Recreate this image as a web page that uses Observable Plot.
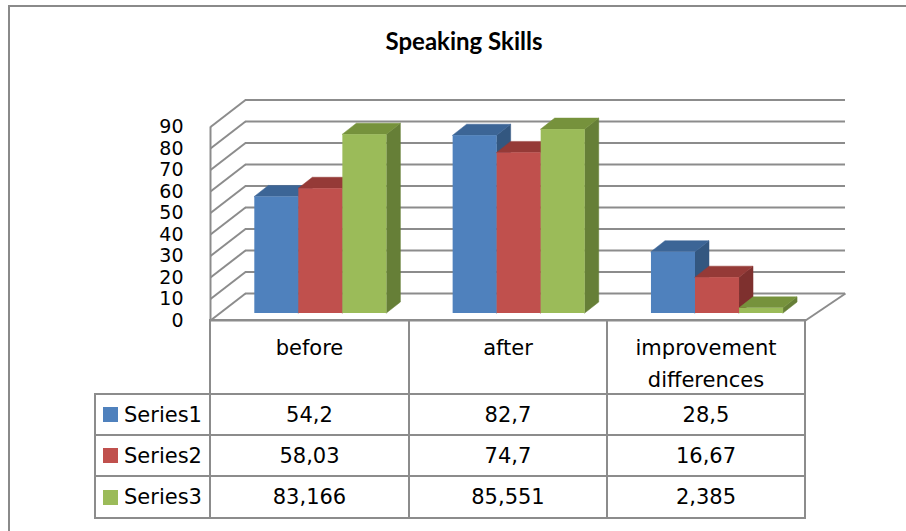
<!DOCTYPE html>
<html>
<head>
<meta charset="utf-8">
<script src="https://cdn.jsdelivr.net/npm/d3@7"></script>
<script src="https://cdn.jsdelivr.net/npm/@observablehq/plot@0.6"></script>
<style>
  html, body { margin: 0; padding: 0; background: #fff; }
  #wrap { position: relative; width: 906px; height: 531px; overflow: hidden; font-family: "DejaVu Sans", Lato, sans-serif; color: #000; }
  #wrap svg { position: absolute; left: 0; top: 0; }
  .frameL { position: absolute; left: 8px; top: 5px; width: 2px; height: 540px; background: #8a8a8a; }
  .frameT { position: absolute; left: 8px; top: 5px; width: 910px; height: 2px; background: #8a8a8a; }
  #title { position: absolute; left: 0; width: 928px; top: 26px; text-align: center; font-weight: bold; font-size: 24px; font-family: Lato, sans-serif; }
  .cell { position: absolute; box-sizing: border-box; border: 2px solid #8c8c8c; font-size: 21px; text-align: center; background: transparent; }
  .hdr { padding-top: 11px; line-height: 32px; }
  .val { display: flex; align-items: center; justify-content: center; }
  .leg { display: flex; align-items: center; justify-content: flex-start; padding-left: 7px; }
  .sw { width: 15px; height: 15px; margin-right: 6px; }
</style>
</head>
<body>
<div id="wrap">
  <div class="frameL"></div>
  <div class="frameT"></div>
  <div id="title">Speaking Skills</div>
</div>
<script>
// ---- data ----
const categories = ["before", "after", "improvement differences"];
const categoryLabels = ["before", "after", "improvement\ndifferences"];
const seriesNames = ["Series1", "Series2", "Series3"];
const series1 = [54.2, 82.7, 28.5];
const series2 = [58.03, 74.7, 16.67];
const series3 = [83.166, 85.551, 2.385];
const yTicks = [0, 10, 20, 30, 40, 50, 60, 70, 80, 90];

// ---- styles ----
const frontColors = ["#4F81BD", "#C0504D", "#9BBB59"];
const topColors = ["#3C6596", "#953A37", "#76923C"];
const sideColors = ["#335780", "#7E302E", "#667F37"];
const gridColor = "#8c8c8c";

const seriesValues = [series1, series2, series3];

// layout (pixels)
const W = 906, H = 531;
const xLeft = 210, xRight = 805, yZero = 320, yMax = 126.5;
const kx = 3 / (xRight - xLeft);          // data units per px (x)
const ky = 90 / (yZero - yMax);           // data units per px (y)
const backDx = 35, backDy = -27;          // back wall offset
const midDx = 9, midDy = -7;              // bar front face offset
const depthX = 14 * kx, depthY = 11 * ky; // bar depth
const groupOffset = 0.178, barW = 0.222;

const marks = [];
// back wall grid
marks.push(Plot.ruleY(yTicks, {y: d => d, x1: 0, x2: 3 + 5 * kx, dx: backDx, dy: backDy, stroke: gridColor, strokeWidth: 2}));
// side wall diagonals
marks.push(Plot.link(yTicks, {x1: 0, y1: d => d, x2: backDx * kx, y2: d => d - backDy * ky, stroke: gridColor, strokeWidth: 2}));
// front axis line
marks.push(Plot.ruleX([0], {y1: 0, y2: 90, stroke: gridColor, strokeWidth: 2}));
// floor front and right edges
marks.push(Plot.ruleY([0], {x1: 0, x2: 3, stroke: gridColor, strokeWidth: 2}));
marks.push(Plot.link([0], {x1: 3, y1: 0, x2: 3 + 40 * kx, y2: -backDy * ky, stroke: gridColor, strokeWidth: 2}));

// bars (3D): draw series in order so right bars cover left bars' sides
seriesValues.forEach((vals, j) => {
  const rows = vals.map((v, i) => {
    const x1 = i + groupOffset + j * barW;
    return {cat: categories[i], x1, x2: x1 + barW, v};
  });
  const side = rows.flatMap(r => [
    {cat: r.cat, x: r.x2, y1: 0, y2: r.v},
    {cat: r.cat, x: r.x2 + depthX, y1: depthY, y2: r.v + depthY}
  ]);
  const top = rows.flatMap(r => [
    {cat: r.cat, y: r.v, x1: r.x1, x2: r.x2},
    {cat: r.cat, y: r.v + depthY, x1: r.x1 + depthX, x2: r.x2 + depthX}
  ]);
  marks.push(Plot.areaY(side, {x: "x", y1: "y1", y2: "y2", z: "cat", fill: sideColors[j], stroke: sideColors[j], strokeWidth: 0.5, dx: midDx, dy: midDy}));
  marks.push(Plot.areaX(top, {y: "y", x1: "x1", x2: "x2", z: "cat", fill: topColors[j], stroke: topColors[j], strokeWidth: 0.5, dx: midDx, dy: midDy}));
  marks.push(Plot.rect(rows, {x1: "x1", x2: "x2", y1: 0, y2: "v", fill: frontColors[j], dx: midDx, dy: midDy}));
});

// y axis labels
marks.push(Plot.axisY(yTicks, {tickSize: 0, tickPadding: 27, label: null, fontSize: 19}));

const chart = Plot.plot({
  width: W, height: H,
  marginLeft: xLeft, marginRight: W - xRight, marginTop: yMax, marginBottom: H - yZero,
  x: {domain: [0, 3], axis: null},
  y: {domain: [0, 90], axis: null},
  style: {fontFamily: "'DejaVu Sans', Lato, sans-serif", fontSize: "19px", color: "#000", background: "transparent", overflow: "visible"},
  marks
});
const wrap = document.getElementById("wrap");
wrap.insertBefore(chart, document.getElementById("title"));

// ---- data table ----
const colEdges = [95, 210, 409, 607, 805];
const rowEdges = [320, 394, 435, 476, 518];
function cell(cls, col, row, html) {
  const d = document.createElement("div");
  d.className = "cell " + cls;
  d.style.left = (colEdges[col] - 1) + "px";
  d.style.top = (rowEdges[row] - 1) + "px";
  d.style.width = (colEdges[col + 1] - colEdges[col] + 2) + "px";
  d.style.height = (rowEdges[row + 1] - rowEdges[row] + 2) + "px";
  d.innerHTML = html;
  wrap.appendChild(d);
}
categoryLabels.forEach((c, i) => cell("hdr", i + 1, 0, c.replace("\n", "<br>")));
seriesValues.forEach((vals, j) => {
  cell("leg", 0, j + 1, `<span class="sw" style="background:${frontColors[j]}"></span>${seriesNames[j]}`);
  vals.forEach((v, i) => cell("val", i + 1, j + 1, String(v).replace(".", ",")));
});
</script>
</body>
</html>
